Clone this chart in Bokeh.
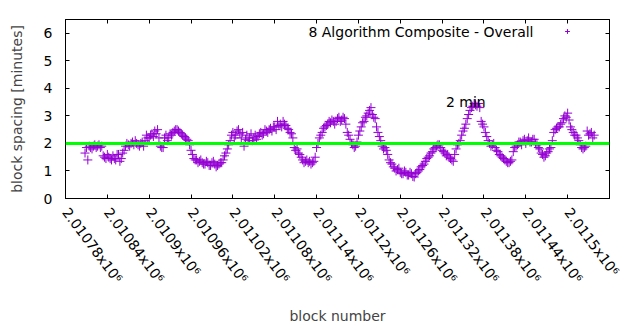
import math
from bokeh.plotting import figure
from bokeh.models import (Range1d, Span, Label, LinearAxis, Legend, LegendItem,
                          FixedTicker)
from bokeh.embed import file_html
from bokeh.resources import INLINE

# ---- data ----
FIRST_BLOCK = 2010808
BLOCK_STEP = 4
SPACING = [
    1.65, 1.4, 1.85, 1.9, 1.85, 1.95, 1.9, 1.5, 1.6, 1.45,
    1.55, 1.4, 1.6, 1.45, 1.75, 2.0, 1.9, 2.05, 2.1, 1.95,
    2.0, 1.9, 2.3, 2.2, 2.35, 2.45, 2.5, 1.9, 1.85, 2.3,
    2.2, 2.3, 2.45, 2.5, 2.4, 2.3, 2.2, 2.1, 1.75, 1.45,
    1.4, 1.35, 1.3, 1.25, 1.3, 1.2, 1.35, 1.15, 1.25, 1.3,
    1.55, 1.8, 2.1, 2.4, 2.3, 2.5, 2.2, 1.9, 2.3, 2.2,
    2.1, 2.3, 2.25, 2.4, 2.35, 2.45, 2.5, 2.45, 2.6, 2.8,
    2.7, 2.8, 2.65, 2.5, 2.35, 1.85, 1.8, 1.6, 1.4, 1.35,
    1.3, 1.25, 1.35, 1.85, 2.2, 2.4, 2.6, 2.7, 2.75, 2.8,
    2.8, 2.95, 2.85, 2.9, 2.4, 2.15, 1.95, 1.9, 2.3, 2.6,
    2.8, 3.0, 3.2, 3.05, 2.9, 2.4, 2.1, 1.8, 1.75, 1.4,
    1.25, 1.1, 1.05, 0.95, 0.9, 0.95, 0.85, 0.9, 0.78, 0.95,
    1.05, 1.2, 1.35, 1.5, 1.65, 1.8, 1.9, 1.95, 1.75, 1.65,
    1.6, 1.45, 1.35, 1.8, 2.0, 2.3, 2.55, 2.9, 3.2, 3.35,
    3.4, 3.45, 2.8, 2.6, 2.25, 2.0, 1.95, 1.85, 1.7, 1.55,
    1.45, 1.35, 1.3, 1.4, 1.85, 1.95, 2.05, 2.1, 2.0, 2.2,
    2.05, 2.15, 1.95, 1.8, 1.6, 1.55, 1.7, 1.85, 2.4, 2.55,
    2.6, 2.75, 3.0, 3.1, 2.6, 2.4, 2.3, 2.1, 1.85, 1.85, 2.45, 2.35, 2.2,
]
# the blocks in between (offset by half a step)
SPACING_MID = [
    1.85, 1.9, 1.8, 1.95, 1.9, 1.85, 1.55, 1.45, 1.5, 1.4,
    1.45, 1.6, 1.35, 1.65, 1.9, 1.95, 2.0, 1.95, 2.0, 1.9,
    2.05, 2.1, 2.2, 2.3, 2.25, 2.35, 2.2, 1.85, 2.2, 2.1,
    2.35, 2.4, 2.5, 2.45, 2.35, 2.25, 2.15, 1.95, 1.6, 1.4,
    1.3, 1.4, 1.25, 1.35, 1.2, 1.3, 1.25, 1.2, 1.3, 1.4,
    1.65, 1.95, 2.3, 2.2, 2.45, 2.35, 2.4, 2.15, 2.1, 2.35,
    2.2, 2.15, 2.35, 2.3, 2.5, 2.4, 2.55, 2.6, 2.5, 2.65,
    2.6, 2.7, 2.55, 2.4, 2.2, 1.75, 1.65, 1.5, 1.3, 1.4,
    1.35, 1.3, 1.5, 2.0, 2.3, 2.55, 2.65, 2.8, 2.85, 2.7,
    2.9, 2.8, 2.95, 2.7, 2.3, 2.0, 1.85, 2.05, 2.45, 2.75,
    2.95, 3.1, 3.3, 2.95, 2.6, 2.25, 1.9, 1.85, 1.6, 1.3,
    1.15, 1.0, 1.1, 0.9, 1.0, 0.85, 0.95, 0.8, 0.9, 1.0,
    1.15, 1.25, 1.45, 1.55, 1.7, 1.85, 1.95, 1.85, 1.7, 1.55,
    1.5, 1.4, 1.6, 1.95, 2.1, 2.45, 2.7, 3.05, 3.3, 3.45,
    3.35, 3.3, 2.7, 2.4, 2.1, 1.9, 2.0, 1.75, 1.6, 1.5,
    1.4, 1.3, 1.35, 1.7, 1.9, 2.05, 1.95, 2.15, 2.1, 2.05,
    2.15, 2.0, 1.85, 1.65, 1.5, 1.65, 1.8, 2.1, 2.5, 2.6,
    2.7, 2.9, 2.95, 2.85, 2.5, 2.3, 2.2, 1.95, 1.8, 1.9, 2.3, 2.4, 2.3,
]
BLOCKS = [FIRST_BLOCK + BLOCK_STEP * i for i in range(len(SPACING))]
BLOCKS_MID = [FIRST_BLOCK + BLOCK_STEP // 2 + BLOCK_STEP * i
              for i in range(len(SPACING_MID))]
TARGET_MINUTES = 2
SERIES_NAME = "8 Algorithm Composite - Overall"
NOTE_TEXT = "2 min"
NOTE_BLOCK = 2011354
NOTE_VALUE = 3.5

X_TICKS = [2010780, 2010840, 2010900, 2010960, 2011020, 2011080, 2011140,
           2011200, 2011260, 2011320, 2011380, 2011440, 2011500, 2011560]
X_TICK_LABELS = ["2.01078x10⁶", "2.01084x10⁶", "2.0109x10⁶", "2.01096x10⁶",
                 "2.01102x10⁶", "2.01108x10⁶", "2.01114x10⁶", "2.0112x10⁶",
                 "2.01126x10⁶", "2.01132x10⁶", "2.01138x10⁶", "2.01144x10⁶",
                 "2.0115x10⁶", "2.01156x10⁶"]
Y_TICKS = [0, 1, 2, 3, 4, 5, 6]

FONT = "DejaVu Sans"
FS = "14px"
PURPLE = "#9400d3"
ANGLE = -0.93
XSTAND = 11
W, H = 640, 330
BL, BR, BT, BB = 65, 31, 19, 132

p = figure(width=W, height=H, output_backend="svg", toolbar_location=None,
           x_range=Range1d(X_TICKS[0], X_TICKS[-1]), y_range=Range1d(0, 6.5),
           min_border_left=BL, min_border_right=BR, min_border_top=BT,
           min_border_bottom=BB)
p.background_fill_color = "white"
p.border_fill_color = "white"
p.outline_line_color = "black"
p.outline_line_width = 1
p.grid.visible = False

r = p.scatter(BLOCKS + BLOCKS_MID, SPACING + SPACING_MID, marker="cross",
              size=9, line_color=PURPLE, line_width=1)
p.add_layout(Span(location=TARGET_MINUTES, dimension="width",
                  line_color="#00ff00", line_width=3))

overrides = dict(zip(X_TICKS, X_TICK_LABELS))
overrides[X_TICKS[-1]] = ""

xa = p.xaxis[0]
xa.ticker = FixedTicker(ticks=X_TICKS)
xa.major_label_overrides = overrides
xa.major_label_orientation = ANGLE
xa.major_tick_in = 4
xa.major_tick_out = 0
xa.minor_tick_line_color = None
xa.major_label_standoff = XSTAND
xa.major_label_text_font = FONT
xa.major_label_text_font_size = FS
xa.major_label_text_color = "black"
xa.axis_label = "block number"
xa.axis_label_text_font = FONT
xa.axis_label_text_font_size = FS
xa.axis_label_text_font_style = "normal"
xa.axis_label_standoff = 14

# last tick label, at the right edge of the frame (screen units from the
# frame's bottom-left corner)
p.add_layout(Label(x=W - BL - BR, y=-XSTAND, x_units="screen",
                   y_units="screen", angle=ANGLE,
                   text=X_TICK_LABELS[-1], text_align="left",
                   text_baseline="middle", text_font=FONT, text_font_size=FS,
                   text_color="black"))

ya = p.yaxis[0]
ya.ticker = FixedTicker(ticks=Y_TICKS)
ya.major_tick_in = 4
ya.major_tick_out = 0
ya.minor_tick_line_color = None
ya.major_label_standoff = 13
ya.major_label_text_font = FONT
ya.major_label_text_font_size = FS
ya.major_label_text_color = "black"
ya.axis_label = "block spacing [minutes]"
ya.axis_label_text_font = FONT
ya.axis_label_text_font_size = FS
ya.axis_label_text_font_style = "normal"
ya.axis_label_standoff = 16

ra = LinearAxis(ticker=FixedTicker(ticks=Y_TICKS),
                major_label_overrides={t: "" for t in Y_TICKS},
                major_tick_in=4, major_tick_out=0,
                minor_tick_line_color=None, major_label_standoff=0)
p.add_layout(ra, "right")

ta = LinearAxis(ticker=FixedTicker(ticks=X_TICKS),
                major_label_overrides={t: "" for t in X_TICKS},
                major_tick_in=4, major_tick_out=0,
                minor_tick_line_color=None, major_label_standoff=0)
p.add_layout(ta, "above")

p.add_layout(Label(x=NOTE_BLOCK, y=NOTE_VALUE, text=NOTE_TEXT,
                   text_align="center", text_baseline="middle",
                   text_font=FONT, text_font_size=FS, text_color="black"))

p.add_layout(Label(x=468, y=167, x_units="screen", y_units="screen",
                   text=SERIES_NAME, text_align="right", text_baseline="middle",
                   text_font=FONT, text_font_size=FS, text_color="black"))

leg = Legend(items=[LegendItem(label=" ", renderers=[r])],
             location=(496, 161), padding=0, margin=0, spacing=0,
             border_line_color=None, background_fill_alpha=0,
             glyph_width=12, glyph_height=12, label_standoff=0,
             label_width=0, label_height=0, label_text_font_size="1px")
p.add_layout(leg)

open("out.html", "w").write(file_html(p, INLINE))
